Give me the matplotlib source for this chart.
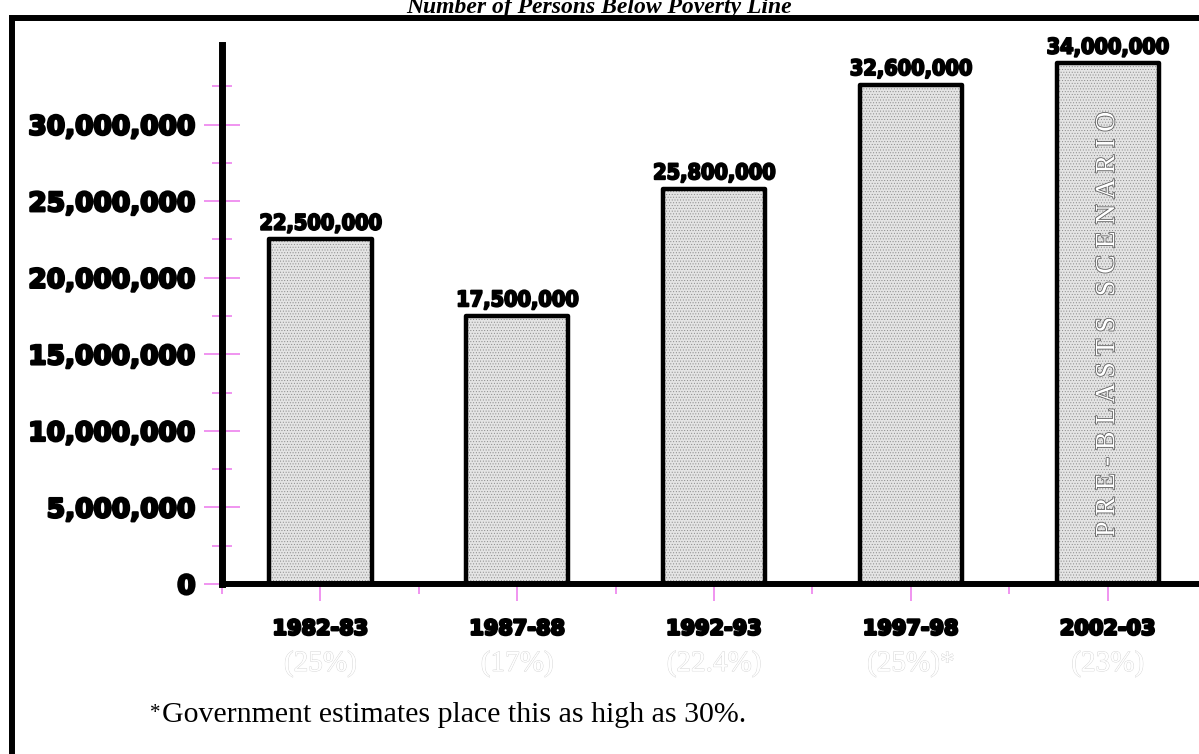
import matplotlib
matplotlib.use("Agg")
import matplotlib.pyplot as plt
import matplotlib.font_manager as fm
import matplotlib.patheffects as pe
from matplotlib.lines import Line2D

periods = ["1982-83", "1987-88", "1992-93", "1997-98", "2002-03"]
persons = [22500000, 17500000, 25800000, 32600000, 34000000]
shares = ["(25%)", "(17%)", "(22.4%)", "(25%)*", "(23%)"]
y_ticks = [0, 5000000, 10000000, 15000000, 20000000, 25000000, 30000000]
y_minor = [2500000, 7500000, 12500000, 17500000, 22500000, 27500000, 32500000]
title = "Number of Persons Below Poverty Line"
footnote = "Government estimates place this as high as 30%."
bar_note = "P R E - B L A S T S   S C E N A R I O"

pink = "#ee82ee"
# a condensed face for the value labels, if one is installed
cond = any(f.name == "DejaVu Sans" and f.stretch == "condensed"
           for f in fm.fontManager.ttflist)
val_size = 15.5 if cond else 14
heavy = [pe.withStroke(linewidth=1.8, foreground="black")]

plt.rcParams["hatch.linewidth"] = 0.4

W, H = 1199, 754
fig = plt.figure(figsize=(W / 100, H / 100), dpi=100)
ax = fig.add_axes([222 / W, 1 - 584 / H, 1 - 222 / W, (584 - 45) / H])

x = list(range(len(periods)))
# dotted fill, then the black outline on top
ax.bar(x, persons, width=0.52, color="#e4e4e4", edgecolor="#8a8a8a",
       hatch="......", linewidth=0, zorder=2)
ax.bar(x, persons, width=0.52, fill=False, edgecolor="black",
       linewidth=3.2, joinstyle="round", zorder=3)

for xi, v in zip(x, persons):
    ax.annotate(f"{v:,}", (xi, v), xytext=(0, 7), textcoords="offset points",
                ha="center", va="baseline", family="DejaVu Sans",
                fontstretch="condensed" if cond else "normal", weight="bold",
                fontsize=val_size, annotation_clip=False,
                path_effects=[pe.withStroke(linewidth=1.4, foreground="black")])

ax.text(x[-1], persons[-1] / 2, bar_note, rotation=90, ha="center", va="center",
        family="Liberation Serif", fontsize=20, color="white", zorder=4,
        path_effects=[pe.withStroke(linewidth=1.2, foreground="#606060")])

ax.set_xlim(-0.5, 4.464)
ax.set_ylim(0, 35.2e6)

ax.set_yticks(y_ticks)
ax.set_yticklabels([f"{v:,}" for v in y_ticks])
ax.set_yticks(y_minor, minor=True)
ax.tick_params(axis="y", which="major", direction="inout", length=26, width=1.2,
               color=pink, pad=6, labelsize=19)
ax.tick_params(axis="y", which="minor", direction="inout", length=14, width=1.2,
               color=pink)
for lab in ax.get_yticklabels():
    lab.set_fontweight("heavy")
    lab.set_path_effects(heavy)

ax.set_xticks(x)
ax.set_xticklabels(periods)
ax.set_xticks([-0.5, 0.5, 1.5, 2.5, 3.5], minor=True)
ax.tick_params(axis="x", which="major", direction="out", length=12, width=1.2,
               color=pink, pad=13, labelsize=15)
ax.tick_params(axis="x", which="minor", direction="out", length=7, width=1.2,
               color=pink)
for lab in ax.get_xticklabels():
    lab.set_fontweight("heavy")
    lab.set_path_effects(heavy)

for xi, s in zip(x, shares):
    ax.text(xi, -0.148, s, transform=ax.get_xaxis_transform(), ha="center",
            va="center", family="Liberation Serif", fontsize=21, color="white",
            path_effects=[pe.withStroke(linewidth=0.6, foreground="#d4d4d4")])

for side in ["top", "right"]:
    ax.spines[side].set_visible(False)
ax.spines["left"].set_linewidth(5)
ax.spines["bottom"].set_linewidth(4.3)
ax.patch.set_alpha(0)

# outer frame (left and top only, rest runs off the picture)
fig.add_artist(Line2D([12.5 / W, 12.5 / W, 1.0], [0, 1 - 18 / H, 1 - 18 / H],
                      transform=fig.transFigure, color="black", linewidth=4.3,
                      solid_joinstyle="miter"))

# the title sits half above the top edge, as in the source
fig.text(0.5, 1 - 13 / H, title, ha="center", va="baseline",
         family="Liberation Serif", style="italic", weight="bold", fontsize=17)
fig.text(150 / W, 1 - 713 / H, "*", ha="left", va="center",
         family="Liberation Serif", fontsize=15)
fig.text(162 / W, 1 - 715 / H, footnote, ha="left", va="center",
         family="Liberation Serif", fontsize=21.5)

fig.savefig("out.png", dpi=100)
